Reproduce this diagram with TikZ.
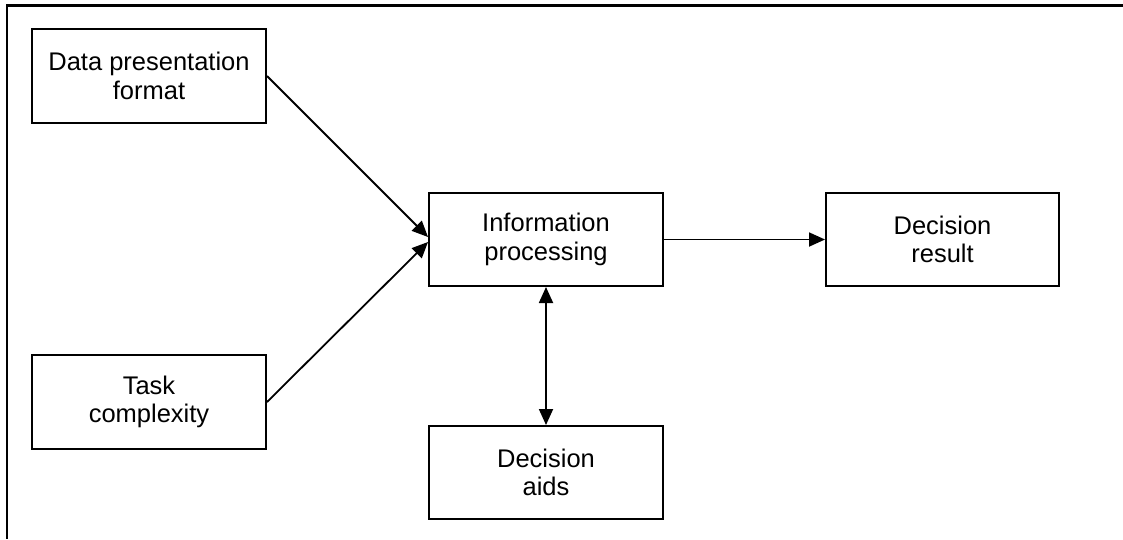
\documentclass[tikz,border=0pt]{standalone}
\usepackage{fontspec}
\setmainfont{Liberation Sans}
\usetikzlibrary{arrows.meta}
\tikzset{
  box/.style={draw=black, line width=2pt, fill=white, minimum width=234pt, minimum height=94pt,
              align=center, inner sep=0pt, font=\fontsize{25.5pt}{28.5pt}\selectfont},
  tip/.style={},
  arr/.style={line width=1.8pt, -{Triangle[length=16pt 0,width=14pt 0]}},
  darr/.style={line width=1.8pt, {Triangle[length=16pt 0,width=14pt 0]}-{Triangle[length=16pt 0,width=14pt 0]}},
  frame/.style={line width=2.2pt}
}
\begin{document}
\begin{tikzpicture}[x=1pt,y=-1pt]
\useasboundingbox (0,0) rectangle (1123,539);
\coordinate (ftr) at (1123,5.5);
\coordinate (ftl) at (7,5.5);
\coordinate (fbl) at (7,539);
\draw[frame] (ftr) -- (ftl) -- (fbl);

\node[box] (data) at (149,76) {Data presentation\\format};
\node[box] (task) at (149,402) {Task\\complexity};
\node[box, minimum height=93pt] (info) at (546,239.5) {Information\\processing};
\node[box, minimum height=93pt, minimum width=233pt] (result) at (942.5,239.5) {Decision\\result};
\node[box, minimum height=93pt] (aids) at (546,472.5) {Decision\\aids};

\draw[arr] (data.east) -- ([yshift=2.5pt]info.west);
\draw[arr] (task.east) -- ([yshift=-2.5pt]info.west);
\draw[arr] (info.east) -- (result.west);
\draw[darr] (info.south) -- (aids.north);
\end{tikzpicture}
\end{document}
